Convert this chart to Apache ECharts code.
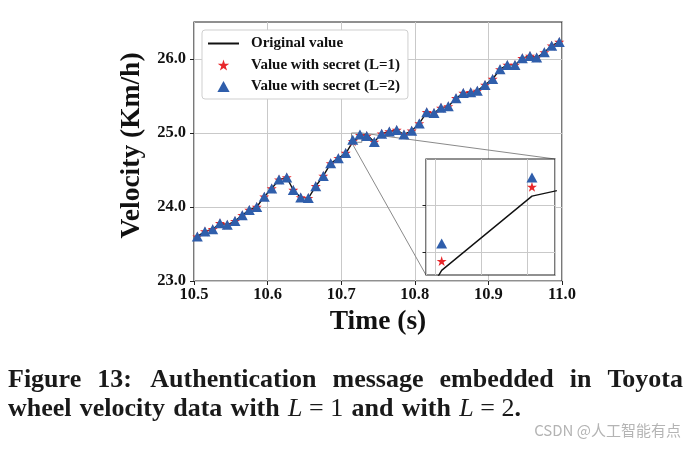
<!DOCTYPE html>
<html><head><meta charset="utf-8">
<script src="https://cdn.jsdelivr.net/npm/echarts@6/dist/echarts.min.js"></script>
<style>html,body{margin:0;padding:0;background:#fff}#c{width:693px;height:449px}</style>
</head><body><div id="c"></div>
<script>
// ---- data ----
const time = [10.5045,10.5149,10.5254,10.5353,10.5452,10.5557,10.5656,10.5751,10.5852,10.5955,
  10.6056,10.6155,10.6260,10.6349,10.6450,10.6553,10.6654,10.6757,10.6857,10.6961,
  10.7061,10.7157,10.7255,10.7347,10.7450,10.7550,10.7654,10.7754,10.7853,10.7958,
  10.8061,10.8162,10.8261,10.8356,10.8455,10.8560,10.8659,10.8760,10.8849,10.8954,
  10.9058,10.9158,10.9257,10.9361,10.9461,10.9565,10.9656,10.9760,10.9860,10.9963];
const originalValue = [23.60,23.67,23.70,23.78,23.76,23.81,23.89,23.96,24.00,24.14,
  24.25,24.37,24.40,24.23,24.13,24.12,24.28,24.42,24.59,24.66,
  24.72,24.880,24.960,24.98,24.88,24.99,25.02,25.04,24.98,25.03,
  25.13,25.28,25.27,25.34,25.36,25.47,25.54,25.55,25.57,25.65,
  25.73,25.86,25.92,25.92,26.01,26.04,26.02,26.09,26.18,26.23];
const secretL1 = [23.60,23.67,23.70,23.78,23.76,23.81,23.89,23.96,24.00,24.14,
  24.25,24.37,24.40,24.23,24.13,24.12,24.28,24.42,24.59,24.66,
  24.73,24.890,24.970,24.96,24.88,24.99,25.02,25.04,24.98,25.03,
  25.13,25.28,25.27,25.34,25.36,25.47,25.54,25.55,25.57,25.65,
  25.73,25.86,25.92,25.92,26.01,26.04,26.02,26.09,26.18,26.23];
const secretL2 = [23.60,23.67,23.70,23.78,23.76,23.81,23.89,23.96,24.00,24.14,
  24.25,24.37,24.40,24.23,24.13,24.12,24.28,24.42,24.59,24.66,
  24.73,24.909,24.980,24.96,24.88,24.99,25.02,25.04,24.98,25.03,
  25.13,25.28,25.27,25.34,25.36,25.47,25.54,25.55,25.57,25.65,
  25.73,25.86,25.92,25.92,26.01,26.04,26.02,26.09,26.18,26.23];
const yTickValues = [23, 24, 25, 26];
const insetXRange = [10.714, 10.728];
const insetYRange = [24.875, 25.0];
const insetYTicks = [24.9, 24.95];
const seriesNames = ['Original value', 'Value with secret (L=1)', 'Value with secret (L=2)'];
const captionLine1 = 'Figure 13: Authentication message embedded in Toyota';
const captionLine2 = [['wheel','b'],['velocity','b'],['data','b'],['with','b'],['L','i'],['=','m'],['1','m'],
  ['and','b'],['with','b'],['L','i'],['=','m'],['2','m'],['.','b']];
const watermark = 'CSDN @人工智能有点';

// ---- styling ----
const SERIF = '"Liberation Serif", "Times New Roman", serif';
const STAR = 'path://M100,0 L122.45,69.1 L195.11,69.1 L136.33,111.8 L158.78,180.9 L100,138.2 L41.22,180.9 L63.67,111.8 L4.89,69.1 L77.55,69.1 Z';
const TRI = 'path://M50,0 L100,90 L0,90 Z';
const RED = '#e8262a', BLUE = '#2f5eab';
const pair = (xs, ys) => xs.map((x, i) => [x, ys[i]]);

const chart = echarts.init(document.getElementById('c'), null, {renderer: 'canvas'});
const rectData = [[insetXRange[0], insetYRange[0]], [insetXRange[1], insetYRange[0]],
  [insetXRange[1], insetYRange[1]], [insetXRange[0], insetYRange[1]], [insetXRange[0], insetYRange[0]]];

chart.setOption({
  animation: false,
  backgroundColor: '#fff',
  grid: [
    {left: 194, top: 22, width: 368, height: 259, show: true, borderColor: '#222', borderWidth: 1.2, backgroundColor: 'transparent', z: 0},
    {left: 426, top: 159, width: 129, height: 116, show: true, borderColor: '#222', borderWidth: 1.2, backgroundColor: '#fff', z: 5}
  ],
  xAxis: [
    {gridIndex: 0, type: 'value', min: 10.5, max: 11.0, interval: 0.1,
      axisLine: {show: false},
      axisTick: {show: true, inside: false, length: 4, lineStyle: {color: '#222', width: 1}},
      axisLabel: {margin: 5, fontFamily: SERIF, fontWeight: 'bold', fontSize: 16.5, color: '#111', formatter: v => v.toFixed(1)},
      splitLine: {show: true, lineStyle: {color: '#c9c9c9', width: 1}},
      name: 'Time (s)', nameLocation: 'middle', nameGap: 24,
      nameTextStyle: {fontFamily: SERIF, fontWeight: 'bold', fontSize: 27.5, color: '#111'}},
    {gridIndex: 1, type: 'value', min: insetXRange[0], max: insetXRange[1], splitNumber: 3, z: 6,
      axisLine: {show: false}, axisTick: {show: false}, axisLabel: {show: false},
      splitLine: {show: true, lineStyle: {color: '#c9c9c9', width: 1}}}
  ],
  yAxis: [
    {gridIndex: 0, type: 'value', min: 23, max: 26.5, interval: 1,
      axisLine: {show: false},
      axisTick: {show: true, inside: false, length: 4, lineStyle: {color: '#222', width: 1}, customValues: yTickValues},
      axisLabel: {margin: 8, fontFamily: SERIF, fontWeight: 'bold', fontSize: 16.5, color: '#111',
        customValues: yTickValues, formatter: v => Number(v).toFixed(1)},
      splitLine: {show: true, lineStyle: {color: '#c9c9c9', width: 1}},
      name: 'Velocity (Km/h)', nameLocation: 'middle', nameGap: 40,
      nameTextStyle: {fontFamily: SERIF, fontWeight: 'bold', fontSize: 27.5, color: '#111', padding: [0, 0, 0, 12]}},
    {gridIndex: 1, type: 'value', min: insetYRange[0], max: insetYRange[1], splitNumber: 2, z: 6,
      axisLine: {show: false},
      axisTick: {show: true, inside: false, length: 3.5, lineStyle: {color: '#222', width: 1}, customValues: insetYTicks},
      axisLabel: {show: false},
      splitLine: {show: true, lineStyle: {color: '#c9c9c9', width: 1}}}
  ],
  legend: {
    left: 202, top: 30, orient: 'vertical', selectedMode: false,
    data: [
      {name: seriesNames[0], itemStyle: {opacity: 0}},
      {name: seriesNames[1], icon: STAR},
      {name: seriesNames[2], icon: TRI}
    ],
    itemWidth: 31, itemHeight: 11, itemGap: 6.5, padding: [6, 8, 5, 5],
    backgroundColor: '#fff', borderColor: '#cfcfcf', borderWidth: 1, borderRadius: 3,
    textStyle: {fontFamily: SERIF, fontWeight: 'bold', fontSize: 15, color: '#111', lineHeight: 15, padding: [0, 0, 0, 7]}
  },
  series: [
    {name: 'inset-box', type: 'line', xAxisIndex: 0, yAxisIndex: 0, data: rectData, symbol: 'none',
      lineStyle: {color: '#8a8a8a', width: 1}, z: 1, silent: true},
    {name: seriesNames[0], type: 'line', xAxisIndex: 0, yAxisIndex: 0, data: pair(time, originalValue),
      symbol: 'none', lineStyle: {color: '#111', width: 1.4}, itemStyle: {color: '#111'}, z: 2},
    {name: seriesNames[1], type: 'scatter', xAxisIndex: 0, yAxisIndex: 0, data: pair(time, secretL1),
      symbol: STAR, symbolSize: 10, itemStyle: {color: RED, opacity: 1}, z: 3},
    {name: seriesNames[2], type: 'scatter', xAxisIndex: 0, yAxisIndex: 0, data: pair(time, secretL2),
      symbol: TRI, symbolSize: [11, 10], itemStyle: {color: BLUE, opacity: 1}, z: 4},
    {name: seriesNames[0], type: 'line', xAxisIndex: 1, yAxisIndex: 1, data: pair(time, originalValue),
      symbol: 'none', lineStyle: {color: '#111', width: 1.4}, itemStyle: {color: '#111'}, z: 7, clip: true},
    {name: seriesNames[1], type: 'scatter', xAxisIndex: 1, yAxisIndex: 1, data: pair(time, secretL1),
      symbol: STAR, symbolSize: 10, itemStyle: {color: RED, opacity: 1}, z: 7, clip: true},
    {name: seriesNames[2], type: 'scatter', xAxisIndex: 1, yAxisIndex: 1, data: pair(time, secretL2),
      symbol: TRI, symbolSize: [11, 10], itemStyle: {color: BLUE, opacity: 1}, z: 8, clip: true}
  ]
});

// connectors between zoom box and inset, positioned via the library's scales
const boxBL = chart.convertToPixel({gridIndex: 0}, [insetXRange[0], insetYRange[0]]);
const boxTR = chart.convertToPixel({gridIndex: 0}, [insetXRange[1], insetYRange[1]]);
const insBL = chart.convertToPixel({gridIndex: 1}, [insetXRange[0], insetYRange[0]]);
const insTR = chart.convertToPixel({gridIndex: 1}, [insetXRange[1], insetYRange[1]]);

// caption layout
const capSize = 26;
const fonts = {
  b: {css: 'bold ' + capSize + 'px "Liberation Serif"', fontWeight: 'bold', fontStyle: 'normal'},
  i: {css: 'italic ' + capSize + 'px "Liberation Serif"', fontWeight: 'normal', fontStyle: 'italic'},
  m: {css: capSize + 'px "Liberation Serif"', fontWeight: 'normal', fontStyle: 'normal'}
};
const ctx = document.createElement('canvas').getContext('2d');
const measure = (t, k) => { ctx.font = fonts[k].css; return ctx.measureText(t).width; };
const graphics = [];
function layoutLine(tokens, left, right, y, gapWeights) {
  const widths = tokens.map(t => measure(t[0], t[1]));
  const totalW = widths.reduce((a, b) => a + b, 0);
  const unit = (right - left - totalW) / gapWeights.reduce((a, b) => a + b, 0);
  let cx = left;
  tokens.forEach((t, i) => {
    const f = fonts[t[1]];
    graphics.push({type: 'text', x: cx, y: y, silent: true,
      style: {text: t[0], fontFamily: SERIF, fontWeight: f.fontWeight, fontStyle: f.fontStyle, fontSize: capSize,
        fill: '#1a1a1a', verticalAlign: 'middle', align: 'left'}});
    cx += widths[i] + (i < gapWeights.length ? unit * gapWeights[i] : 0);
  });
}
const line1Tokens = captionLine1.split(' ').map(w => [w, 'b']);
layoutLine(line1Tokens, 8, 683, 380, line1Tokens.slice(0, -1).map(t => t[0].endsWith(':') ? 1.15 : 1));
layoutLine(captionLine2, 8, 521, 409, captionLine2.slice(0, -1).map((t, i) => {
  const next = captionLine2[i + 1][0];
  if (next === '.') return 0;
  if (t[0] === '=' || next === '=') return 0.8;
  return 1;
}));

graphics.push({type: 'text', x: 681, y: 430, silent: true,
  style: {text: watermark, fontFamily: '"Noto Sans CJK SC", sans-serif', fontSize: 15, fill: '#b4b4b4', align: 'right', verticalAlign: 'middle'}});
graphics.push({type: 'line', silent: true, z: 1,
  shape: {x1: boxBL[0], y1: boxBL[1], x2: insBL[0], y2: insBL[1]}, style: {stroke: '#8a8a8a', lineWidth: 1}});
graphics.push({type: 'line', silent: true, z: 1,
  shape: {x1: boxTR[0], y1: boxTR[1], x2: insTR[0], y2: insTR[1]}, style: {stroke: '#8a8a8a', lineWidth: 1}});

chart.setOption({graphic: graphics});
</script>
</body></html>
